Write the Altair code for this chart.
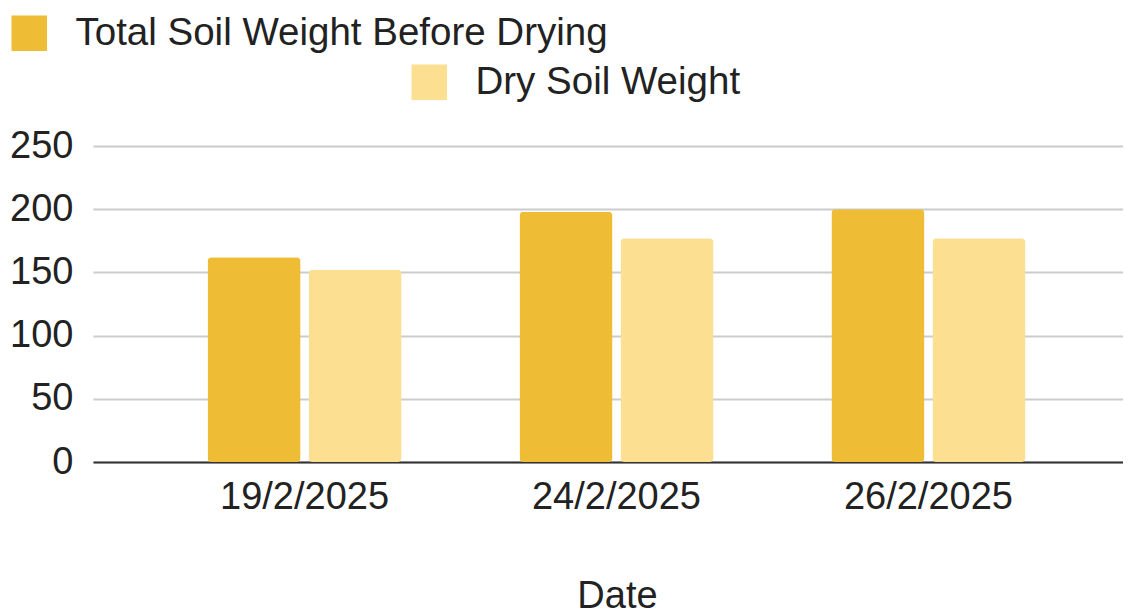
import altair as alt
import pandas as pd

dates = ["19/2/2025", "24/2/2025", "26/2/2025"]
series_names = ["Total Soil Weight Before Drying", "Dry Soil Weight"]
total_before = [162, 198, 200]
dry_weight = [152, 177, 177]
colors = ["#eebd35", "#fddf92"]

rows = []
for d, t, w in zip(dates, total_before, dry_weight):
    rows.append({"Date": d, "series": series_names[0], "value": t})
    rows.append({"Date": d, "series": series_names[1], "value": w})
df = pd.DataFrame(rows)

FONT = "Liberation Sans"
FS = 38

base = alt.Chart(df)

def layer(i, lx, ly):
    return base.transform_filter(alt.datum.series == series_names[i]).mark_bar(
        cornerRadius=4
    ).encode(
        x=alt.X("Date:N", sort=dates,
                scale=alt.Scale(paddingInner=0.378, paddingOuter=0.34, align=0.54),
                axis=alt.Axis(title="Date", labelAngle=0, labelFontSize=FS, labelFont=FONT,
                              labelColor="#222", titleFontSize=FS, titleFont=FONT,
                              titleFontWeight="normal", titleColor="#222", titlePadding=61,
                              titleX=524, labelPadding=16, ticks=False, domainColor="#333",
                              domainWidth=2, grid=False)),
        xOffset=alt.XOffset("series:N", sort=series_names,
                            scale=alt.Scale(domain=series_names, paddingInner=0.079)),
        y=alt.Y("value:Q", scale=alt.Scale(domain=[0, 250]),
                axis=alt.Axis(title=None, values=[0, 50, 100, 150, 200, 250],
                              labelFontSize=FS, labelFont=FONT, labelColor="#222",
                              labelPadding=20, ticks=False, domain=False,
                              gridColor="#cccccc", gridWidth=2)),
        color=alt.Color("series:N",
                        scale=alt.Scale(domain=[series_names[i]], range=[colors[i]]),
                        legend=alt.Legend(title=None, orient="none", legendX=lx, legendY=ly,
                                          symbolType="square", symbolSize=1260,
                                          symbolStrokeWidth=0, labelFontSize=38.5,
                                          labelFont=FONT, labelColor="#222",
                                          labelOffset=27, labelLimit=1000, padding=0)),
    )

chart = alt.layer(
    layer(0, -83, -132),
    layer(1, -83 + 400, -83),
).resolve_scale(color="independent").properties(
    width=1030, height=316,
    padding={"left": 85, "top": 138, "right": 0, "bottom": 152},
    autosize=alt.AutoSizeParams(type="none"),
).configure_view(stroke=None)

chart.save("out.html", embed_options={"renderer": "svg", "actions": False})
